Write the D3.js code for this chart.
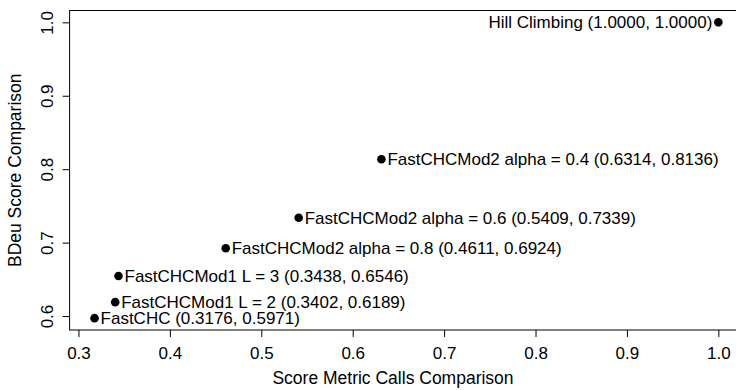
<!DOCTYPE html>
<html>
<head>
<meta charset="utf-8">
<script src="https://cdn.jsdelivr.net/npm/d3@7"></script>
<style>
  body { margin: 0; background: #fff; }
  text { font-family: "Liberation Sans", Arial, sans-serif; fill: #000; }
</style>
</head>
<body>
<svg width="736" height="390"></svg>
<script>
// data
const names = ['FastCHC', 'FastCHCMod1 L = 2', 'FastCHCMod1 L = 3',
  'FastCHCMod2 alpha = 0.8', 'FastCHCMod2 alpha = 0.6',
  'FastCHCMod2 alpha = 0.4', 'Hill Climbing'];
const metricCalls = [0.3176, 0.3402, 0.3438, 0.4611, 0.5409, 0.6314, 1.0];
const bdeuScores = [0.5971, 0.6189, 0.6546, 0.6924, 0.7339, 0.8136, 1.0];
const labelSide = ['right', 'right', 'right', 'right', 'right', 'right', 'left'];
const xTicks = [0.3, 0.4, 0.5, 0.6, 0.7, 0.8, 0.9, 1.0];
const yTicks = [0.6, 0.7, 0.8, 0.9, 1.0];

const points = names.map((n, i) => ({
  name: n, x: metricCalls[i], y: bdeuScores[i], side: labelSide[i]
}));

const svg = d3.select('svg');
const fs = 17;

// R style 4% padding around the data range
const xext = d3.extent(metricCalls), yext = d3.extent(bdeuScores);
const xpad = (xext[1] - xext[0]) * 0.04, ypad = (yext[1] - yext[0]) * 0.04;
const plotL = 69.6, plotR = 743.3, plotT = 10.5, plotB = 330;

const x = d3.scaleLinear().domain([xext[0] - xpad, xext[1] + xpad]).range([plotL, plotR]);
const y = d3.scaleLinear().domain([yext[0] - ypad, yext[1] + ypad]).range([plotB, plotT]);

// plot box
svg.append('rect')
  .attr('x', plotL).attr('y', plotT)
  .attr('width', plotR - plotL).attr('height', plotB - plotT)
  .attr('fill', 'none').attr('stroke', '#000').attr('stroke-width', 1);

// x axis
const xAxis = svg.append('g')
  .attr('transform', `translate(0,${plotB})`)
  .call(d3.axisBottom(x).tickValues(xTicks).tickFormat(d3.format('.1f'))
    .tickSizeInner(7).tickSizeOuter(0).tickPadding(10));
xAxis.select('.domain').remove();
xAxis.selectAll('text').attr('font-size', fs).attr('font-family', '"Liberation Sans", Arial, sans-serif');

// y axis, labels rotated like R's default
const yAxis = svg.append('g')
  .attr('transform', `translate(${plotL},0)`)
  .call(d3.axisLeft(y).tickValues(yTicks).tickFormat(d3.format('.1f'))
    .tickSizeInner(7).tickSizeOuter(0));
yAxis.select('.domain').remove();
yAxis.selectAll('.tick text')
  .attr('font-size', fs).attr('font-family', '"Liberation Sans", Arial, sans-serif')
  .attr('x', 0).attr('dy', 0)
  .attr('text-anchor', 'middle')
  .attr('transform', 'translate(-17,0) rotate(-90)');

// axis titles
svg.append('text')
  .attr('x', 393).attr('y', 384)
  .attr('text-anchor', 'middle').attr('font-size', 17.5)
  .text('Score Metric Calls Comparison');

svg.append('text')
  .attr('transform', `translate(21,${(plotT + plotB) / 2}) rotate(-90)`)
  .attr('text-anchor', 'middle').attr('font-size', 17.5)
  .text('BDeu Score Comparison');

// points
svg.selectAll('.pt')
  .data(points)
  .join('circle')
  .attr('class', 'pt')
  .attr('cx', d => x(d.x))
  .attr('cy', d => y(d.y))
  .attr('r', 4.3)
  .attr('fill', '#000');

// labels
svg.selectAll('.lbl')
  .data(points)
  .join('text')
  .attr('class', 'lbl')
  .attr('x', d => x(d.x) + (d.side === 'right' ? 6 : -6))
  .attr('y', d => y(d.y))
  .attr('dy', '0.35em')
  .attr('text-anchor', d => d.side === 'right' ? 'start' : 'end')
  .attr('font-size', fs)
  .text(d => `${d.name} (${d.x.toFixed(4)}, ${d.y.toFixed(4)})`);
</script>
</body>
</html>
